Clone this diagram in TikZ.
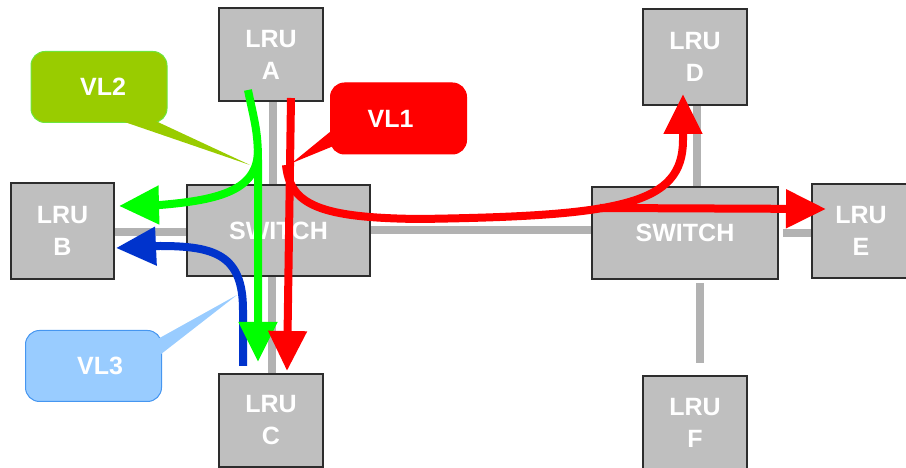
\documentclass[tikz,border=0pt]{standalone}
\usepackage{fontspec}
\setmainfont{Liberation Sans}
\usepackage{tikz}
\usetikzlibrary{arrows.meta, positioning, calc}
\definecolor{BoxGray}{RGB}{191,191,191}
\definecolor{BoxEdge}{RGB}{45,45,45}
\definecolor{LinkGray}{RGB}{178,178,178}
\definecolor{VLRed}{RGB}{255,0,0}
\definecolor{VLGreen}{RGB}{0,255,0}
\definecolor{VLBlue}{RGB}{0,51,204}
\definecolor{TagGreen}{RGB}{153,204,0}
\definecolor{TagGreenEdge}{RGB}{110,230,60}
\definecolor{TagBlue}{RGB}{153,204,255}
\definecolor{TagBlueEdge}{RGB}{70,150,240}

\begin{document}
\begin{tikzpicture}[x=1pt, y=1pt,
    lru/.style={draw=BoxEdge, line width=2pt, fill=BoxGray, text=white, align=center,
        font=\fontsize{25}{32}\selectfont\bfseries, inner sep=0pt,
        minimum width=104pt, minimum height=93pt},
    switchbox/.style={lru, minimum width=183pt, minimum height=91pt},
    link/.style={draw=LinkGray, line width=8pt},
    vl/.style={line width=8pt, -{Triangle[length=40pt, width=37pt]}},
    tag/.style={rounded corners=14pt, line width=1pt, text=white,
        font=\fontsize{25}{30}\selectfont\bfseries, inner sep=0pt,
        minimum width=136pt, minimum height=71pt}]
    \useasboundingbox (0,0) rectangle (906,468);

    % 链路 (灰色)
    \coordinate (lkAtop) at (273,367);
    \coordinate (lkAbot) at (273,283);
    \coordinate (lkCtop) at (272,192);
    \coordinate (lkCbot) at (272,94);
    \draw[link] (lkAtop) -- (lkAbot);
    \draw[link] (lkCtop) -- (lkCbot);
    \draw[link] (114,236) -- (188,236);
    \draw[link] (369,238) -- (600,238);
    \draw[link] (697,363) -- (697,281);
    \draw[link] (783,235) -- (812,235);
    \draw[link] (700,185) -- (700,105);

    % 交换机与 LRU
    \node[lru] (lruA) at (271,413.5) {LRU\\A};
    \node[lru, minimum width=103pt, minimum height=96pt] (lruB) at (62.5,237) {LRU\\B};
    \node[switchbox] (swL) at (278.5,237.5) {SWITCH};
    \node[lru] (lruC) at (271,47.5) {LRU\\C};
    \node[lru, minimum height=96pt] (lruD) at (695,411) {LRU\\D};
    \node[switchbox, minimum width=186pt, minimum height=92pt] (swR) at (685,235) {SWITCH};
    \node[lru, minimum width=98pt, minimum height=94pt] (lruE) at (861,237) {LRU\\E};
    \node[lru, minimum height=94pt] (lruF) at (695,45) {LRU\\F};

    % 标注框
    \node[tag, fill=TagGreen, draw=TagGreenEdge] (vltwo) at (99,381) {\hspace*{8pt}VL2};
    \fill[TagGreen] ([xshift=11pt,yshift=6pt]vltwo.south) -- (250,303) -- ([xshift=48pt,yshift=6pt]vltwo.south) -- cycle;
    \node[tag, fill=VLRed, draw=VLRed] (vlone) at (398.5,349.5) {VL1\hspace*{16pt}};
    \fill[VLRed] ([xshift=6pt,yshift=-8.5pt]vlone.west) -- (292,305) -- ([xshift=6pt,yshift=-26.5pt]vlone.west) -- cycle;
    \node[tag, fill=TagBlue, draw=TagBlueEdge] (vlthree) at (93.5,102) {\hspace*{13pt}VL3};
    \fill[TagBlue] ([xshift=-6pt,yshift=26pt]vlthree.east) -- (237,173) -- ([xshift=-6pt,yshift=8pt]vlthree.east) -- cycle;

    % VL3 (蓝色)
    \draw[vl, VLBlue] ([xshift=-28pt,yshift=7pt]lruC.north) -- (243,158) .. controls (243,213) and (215,222) .. (160,222) -- ([xshift=1pt,yshift=-17pt]lruB.east);

    % VL2 (绿色)
    \coordinate (gsplit) at (258,318);
    \draw[vl, VLGreen] ([xshift=-23pt,yshift=12pt]lruA.south) .. controls (254,348) and (258,338) .. (258,308) -- ([xshift=-13pt,yshift=11pt]lruC.north);
    \draw[vl, VLGreen] (gsplit) .. controls (258,278) and (220,268) .. (160,263) -- ([xshift=4pt,yshift=25pt]lruB.east);

    % VL1 (红色)
    \coordinate (rsplit) at (286,303);
    \coordinate (resplit) at (600,260);
    \draw[vl, VLRed] ([xshift=20pt,yshift=4pt]lruA.south) -- ([xshift=16pt,yshift=2pt]lruC.north);
    \draw[vl, VLRed] (rsplit) .. controls (290,263) and (320,250) .. (420,249) .. controls (620,252) and (683,263) .. (683,328) -- ([xshift=-12pt,yshift=12pt]lruD.south);
    \draw[vl, VLRed] (resplit) -- ([xshift=15pt,yshift=22pt]lruE.west);
\end{tikzpicture}
\end{document}
